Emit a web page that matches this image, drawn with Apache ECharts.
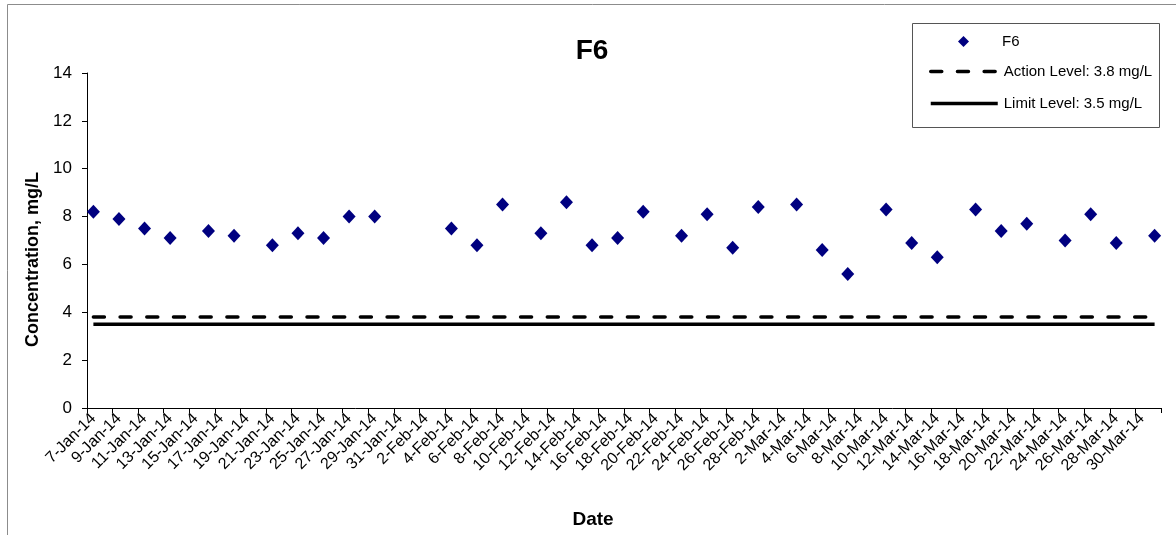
<!DOCTYPE html>
<html>
<head>
<meta charset="utf-8">
<script src="https://cdn.jsdelivr.net/npm/echarts@6/dist/echarts.min.js"></script>
<style>
html,body{margin:0;padding:0;background:#fff;}
#chart{width:1176px;height:535px;}
</style>
</head>
<body>
<div id="chart"></div>
<script>
// Daily categories 7-Jan-14 .. 31-Mar-14
const months = ['Jan', 'Feb', 'Mar'];
const monthDays = [[7, 31], [1, 28], [1, 31]];
const categories = [];
monthDays.forEach(function (r, m) {
  for (let d = r[0]; d <= r[1]; d++) categories.push(d + '-' + months[m] + '-14');
});

// Sampled F6 concentrations (mg/L)
const sampleDates = ['7-Jan-14','9-Jan-14','11-Jan-14','13-Jan-14','16-Jan-14','18-Jan-14','21-Jan-14','23-Jan-14','25-Jan-14','27-Jan-14','29-Jan-14',
  '4-Feb-14','6-Feb-14','8-Feb-14','11-Feb-14','13-Feb-14','15-Feb-14','17-Feb-14','19-Feb-14','22-Feb-14','24-Feb-14','26-Feb-14','28-Feb-14',
  '3-Mar-14','5-Mar-14','7-Mar-14','10-Mar-14','12-Mar-14','14-Mar-14','17-Mar-14','19-Mar-14','21-Mar-14','24-Mar-14','26-Mar-14','28-Mar-14','31-Mar-14'];
const sampleValues = [8.2,7.9,7.5,7.1,7.4,7.2,6.8,7.3,7.1,8.0,8.0,
  7.5,6.8,8.5,7.3,8.6,6.8,7.1,8.2,7.2,8.1,6.7,8.4,
  8.5,6.6,5.6,8.3,6.9,6.3,8.3,7.4,7.7,7.0,8.1,6.9,7.2];

const actionLevel = 3.8;
const limitLevel = 3.5;
const yTicks = [0, 14, 2]; // min, max, interval

const scatterData = sampleDates.map(function (d, i) { return [d, sampleValues[i]]; });
const actionData = categories.map(function () { return actionLevel; });
const limitData = categories.map(function () { return limitLevel; });

const FONT = '"Liberation Sans", Arial, sans-serif';
const hiddenSymbol = {color: 'rgba(0,0,0,0)', borderWidth: 0, opacity: 0};
const chart = echarts.init(document.getElementById('chart'), null, {renderer: 'canvas'});
chart.setOption({
  animation: false,
  backgroundColor: '#ffffff',
  title: {
    text: 'F6',
    left: 592,
    textAlign: 'center',
    top: 37,
    padding: 0,
    textStyle: {fontFamily: FONT, fontSize: 28, fontWeight: 'bold', color: '#000'}
  },
  graphic: [
    {type: 'polyline', shape: {points: [[7.5, 540], [7.5, 4.5], [1180, 4.5]]}, style: {stroke: '#8c8c8c', lineWidth: 1, fill: null}, silent: true},
    {type: 'rect', shape: {x: 912.5, y: 23.5, width: 247, height: 104}, style: {stroke: '#555', lineWidth: 1, fill: '#fff'}, z: 0}
  ],
  legend: [
    {
      data: ['F6'],
      left: 958, top: 34,
      padding: 0,
      orient: 'vertical',
      itemWidth: 11, itemHeight: 11,
      z: 10,
      textStyle: {fontFamily: FONT, fontSize: 15, color: '#000', padding: [0, 0, 0, 28]}
    },
    {
      data: [
        {name: 'Action Level: 3.8 mg/L', itemStyle: hiddenSymbol},
        {name: 'Limit Level: 3.5 mg/L', itemStyle: hiddenSymbol}
      ],
      left: 929, top: 64,
      padding: 0,
      orient: 'vertical',
      itemWidth: 67, itemHeight: 14,
      itemGap: 17,
      z: 10,
      lineStyle: {width: 3.5},
      textStyle: {fontFamily: FONT, fontSize: 15, color: '#000', padding: [0, 0, 0, 1]}
    }
  ],
  grid: {left: 87, right: 15, top: 73, bottom: 127, containLabel: false},
  xAxis: {
    type: 'category',
    data: categories,
    boundaryGap: true,
    name: 'Date',
    nameLocation: 'middle',
    nameGap: 102,
    nameTextStyle: {fontFamily: FONT, fontSize: 19, fontWeight: 'bold', color: '#000', padding: [0, 62, 0, 0], verticalAlign: 'top'},
    axisLine: {lineStyle: {color: '#000', width: 1}},
    axisTick: {show: true, interval: 1, length: 5, lineStyle: {color: '#000'}},
    axisLabel: {interval: 1, rotate: 45, fontFamily: FONT, fontSize: 16, color: '#000', margin: 8},
    splitLine: {show: false}
  },
  yAxis: {
    type: 'value',
    min: yTicks[0], max: yTicks[1], interval: yTicks[2],
    name: 'Concentration, mg/L',
    nameLocation: 'middle',
    nameGap: 39,
    nameTextStyle: {fontFamily: FONT, fontSize: 18, fontWeight: 'bold', color: '#000', padding: [0, 38, 0, 0]},
    axisLine: {show: true, lineStyle: {color: '#000', width: 1}},
    axisTick: {show: true, length: 5, lineStyle: {color: '#000'}},
    axisLabel: {fontFamily: FONT, fontSize: 17, color: '#000', margin: 15},
    splitLine: {show: false}
  },
  series: [
    {
      name: 'F6',
      type: 'scatter',
      data: scatterData,
      symbol: 'diamond',
      symbolSize: [13, 14],
      itemStyle: {color: '#000080', opacity: 1},
      z: 5
    },
    {
      name: 'Action Level: 3.8 mg/L',
      type: 'line',
      data: actionData,
      symbol: 'none',
      showSymbol: false,
      lineStyle: {color: '#000', width: 3.5, type: [11, 15.7], cap: 'round'},
      itemStyle: {color: '#000'},
      z: 3
    },
    {
      name: 'Limit Level: 3.5 mg/L',
      type: 'line',
      data: limitData,
      symbol: 'none',
      showSymbol: false,
      lineStyle: {color: '#000', width: 3.5, type: 'solid'},
      itemStyle: {color: '#000'},
      z: 3
    }
  ]
});
</script>
</body>
</html>
